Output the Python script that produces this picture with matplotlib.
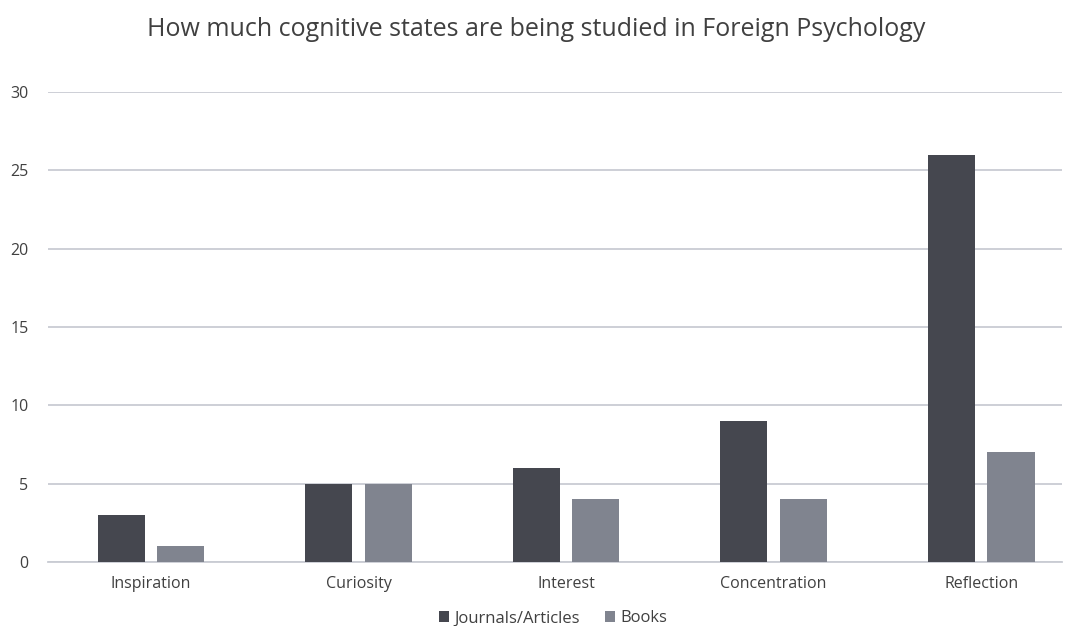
import matplotlib
matplotlib.use("Agg")
import matplotlib.pyplot as plt
import numpy as np

categories = ["Inspiration", "Curiosity", "Interest", "Concentration", "Reflection"]
journals = [3, 5, 6, 9, 26]
books = [1, 5, 4, 4, 7]
series_names = ["Journals/Articles", "Books"]
yticks = [0, 5, 10, 15, 20, 25, 30]

plt.rcParams["font.family"] = ["Open Sans", "DejaVu Sans"]

fig = plt.figure(figsize=(10.72, 6.26), dpi=100)
ax = fig.add_axes([0.0448, 0.1022, 0.9459, 0.7508])

x = np.arange(len(categories))
w = 0.227
off = 0.144
dark = "#45474f"
light = "#80848f"
ax.bar(x - off, journals, w, color=dark, label=series_names[0], zorder=3)
ax.bar(x + off, books, w, color=light, label=series_names[1], zorder=3)

ax.set_xlim(-0.496, 4.39)
ax.set_ylim(0, 30)
ax.set_yticks(yticks)
ax.yaxis.grid(True, color="#c9ccd3", linewidth=1.3, zorder=0)
ax.set_axisbelow(True)
for s in ["top", "right", "left"]:
    ax.spines[s].set_visible(False)
ax.spines["bottom"].set_color("#c9ccd3")
ax.spines["bottom"].set_linewidth(1.3)
ax.set_xticks(x)
ax.set_xticklabels(categories)
ax.tick_params(axis="both", length=0, labelsize=11.5, labelcolor="#404040")
ax.tick_params(axis="x", pad=10)
ax.tick_params(axis="y", pad=14)

fig.text(0.5, 0.953, "How much cognitive states are being studied in Foreign Psychology",
         ha="center", va="center", fontsize=18, color="#404040")

fig.legend(loc="center", bbox_to_anchor=(0.516, 0.012), ncol=2, frameon=False,
           fontsize=12, handlelength=0.6, handleheight=0.6, handletextpad=0.3,
           columnspacing=1.5, labelcolor="#404040")

fig.savefig("out.png", dpi=100)
